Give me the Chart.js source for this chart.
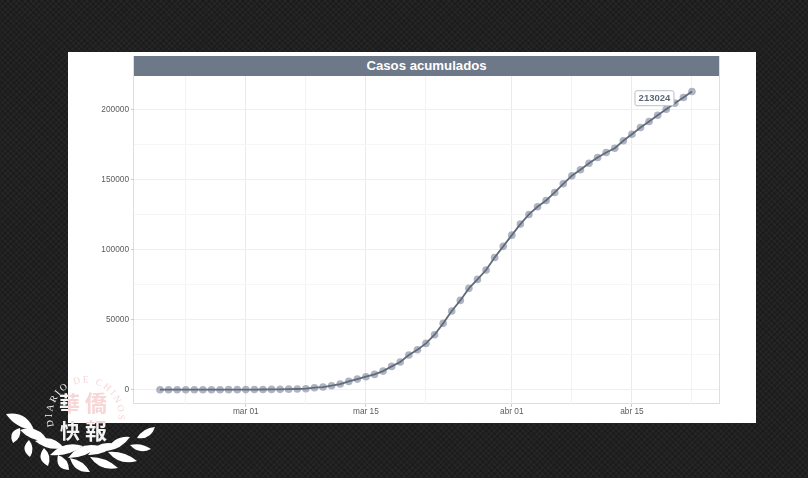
<!DOCTYPE html>
<html>
<head>
<meta charset="utf-8">
<script src="https://cdn.jsdelivr.net/npm/chart.js@4"></script>
<style>
  html, body { margin: 0; padding: 0; }
  body {
    width: 808px; height: 478px; position: relative; overflow: hidden;
    background-color: #262626;
    background-image:
      repeating-linear-gradient(45deg, rgba(0,0,0,.16) 0 2px, transparent 2px 4px),
      repeating-linear-gradient(-45deg, rgba(0,0,0,.16) 0 2px, transparent 2px 4px);
  }
  #sheet { position: absolute; left: 68px; top: 52px; width: 688px; height: 371px; background: #fff; }
  #frame { position: absolute; left: 133px; top: 56px; width: 585px; height: 347px; border: 1px solid #dedee1; border-top: 0; }
  #strip {
    position: absolute; left: 134px; top: 56px; width: 585px; height: 20px; background: #6d7888;
    color: #fff; font: bold 13.2px "Liberation Sans", sans-serif; line-height: 20px; text-align: center;
  }
  #wrap { position: absolute; left: 0; top: 0; width: 808px; height: 478px; filter: blur(.45px); }
  #mark { position: absolute; left: 0; top: 0; }
</style>
</head>
<body>
<div id="sheet"></div>
<div id="frame"></div>
<div id="wrap"><canvas id="myChart" width="808" height="478"></canvas></div>
<div id="strip">Casos acumulados</div>
<svg id="mark" width="808" height="478" xmlns="http://www.w3.org/2000/svg">
  <defs>
    <clipPath id="onSheet"><rect x="68" y="52" width="688" height="371"/></clipPath>
    <clipPath id="offSheet"><path clip-rule="evenodd" d="M0 0H808V478H0Z M68 52H756V423H68Z"/></clipPath>
    <path id="arc" d="M54 426 A33 33 0 1 1 114 432"/>
    <g id="sign">
      <text font-family="Liberation Serif" font-size="9.5"><textPath href="#arc" textLength="118" lengthAdjust="spacing">DIARIO DE CHINOS</textPath></text>
      <text x="59" y="411" font-family="Noto Sans CJK TC" font-weight="700" font-size="21">華</text>
      <text x="85" y="411" font-family="Noto Sans CJK TC" font-weight="700" font-size="22">僑</text>
      <text x="60" y="439" font-family="Noto Sans CJK TC" font-weight="700" font-size="20">快</text>
      <text x="85" y="439" font-family="Noto Sans CJK TC" font-weight="700" font-size="22">報</text>
    </g>
  </defs>
  <g clip-path="url(#onSheet)" fill="#f6d6d6"><use href="#sign"/></g>
  <g clip-path="url(#offSheet)" fill="#f4f4f4"><use href="#sign"/></g>
  <g id="leaves" fill="#fff"></g>
</svg>
<script>
// datos, un valor por dia desde 20 feb
const dayCount = 63;
const casos = [
  3, 3, 3, 3, 4, 8, 15, 25, 35, 60,
  84, 120, 165, 222, 259, 400, 500, 714, 1430, 1900, 2860, 4050, 5950, 7600, 9280,
  10950, 13300, 16660, 19800, 24800, 28600, 33100, 39300, 47400, 56200, 63800, 72400, 78800, 85500, 94500, 102400,
  110400, 118300, 125200, 130700, 135200, 140900, 147100, 152800, 157100, 161800, 165900, 169500, 172500,
  177800, 182500, 187300, 191600, 196100, 200400, 204700, 208700, 213024
];
const lastLabel = "213024";

// dias (desde 20 feb) de las lineas verticales, con etiqueta solo en las mayores
const xTicks = [3, 10, 17, 24, 31, 41, 48, 55, 62];
const xTickLabels = { 10: "mar 01", 24: "mar 15", 41: "abr 01", 55: "abr 15" };
const yTicks = [0, 25000, 50000, 75000, 100000, 125000, 150000, 175000, 200000];
const yTickLabels = [0, 50000, 100000, 150000, 200000];

const tickColor = "#5c5c5c";
const tickFont = { family: "Liberation Sans", size: 8.3 };
const points = casos.map((v, i) => ({ x: i, y: v }));

const labelPlugin = {
  id: "lastLabel",
  afterDatasetsDraw(chart) {
    const c = chart.ctx;
    const px = chart.scales.x.getPixelForValue(dayCount - 1);
    const py = chart.scales.y.getPixelForValue(casos[dayCount - 1]);
    const l = px - 57, t = py - 0.8, w = 39, h = 15;
    c.save();
    c.beginPath();
    c.roundRect(l, t, w, h, 2);
    c.fillStyle = "#fff";
    c.fill();
    c.strokeStyle = "#b9bec8";
    c.lineWidth = 1;
    c.stroke();
    c.fillStyle = "#5d6675";
    c.font = "bold 9.5px 'Liberation Sans'";
    c.textAlign = "center";
    c.textBaseline = "middle";
    c.fillText(lastLabel, l + w / 2, t + h / 2 + 0.5);
    c.restore();
  }
};

new Chart(document.getElementById("myChart"), {
  type: "line",
  plugins: [labelPlugin],
  data: {
    datasets: [
      { data: points, order: 1, borderColor: "#626b7a", borderWidth: 1.8, pointRadius: 0, tension: 0 },
      { data: points, order: 2, showLine: false, pointRadius: 3.8, pointBorderWidth: 0, pointBackgroundColor: "rgba(135,145,165,.68)" }
    ]
  },
  options: {
    responsive: false,
    animation: false,
    events: [],
    layout: { padding: { left: 84, right: 89, top: 76, bottom: 54 } },
    plugins: { legend: { display: false }, tooltip: { enabled: false } },
    scales: {
      x: {
        type: "linear",
        min: -3.03,
        max: 65.15,
        afterBuildTicks: s => { s.ticks = xTicks.map(v => ({ value: v })); },
        afterFit: s => { s.height = 20; },
        border: { display: false },
        grid: {
          color: c => (xTickLabels[c.tick.value] ? "#ebebed" : "#f3f3f4"),
          tickColor: c => (xTickLabels[c.tick.value] ? "#ccc" : "transparent"),
          tickLength: 3
        },
        ticks: {
          autoSkip: false, maxRotation: 0, color: tickColor, font: tickFont, padding: 0,
          callback: v => xTickLabels[v] || ""
        }
      },
      y: {
        type: "linear",
        min: -10200,
        max: 224100,
        afterBuildTicks: s => { s.ticks = yTicks.map(v => ({ value: v })); },
        afterFit: s => { s.width = 50; },
        border: { display: false },
        grid: {
          color: c => (yTickLabels.includes(c.tick.value) ? "#efeff1" : "#f6f6f7"),
          tickColor: c => (yTickLabels.includes(c.tick.value) ? "#ccc" : "transparent"),
          tickLength: 3
        },
        ticks: {
          autoSkip: false, color: tickColor, font: tickFont, padding: 2,
          callback: v => (yTickLabels.includes(v) ? String(v) : "")
        }
      }
    }
  }
});

// laurel de la marca de agua: base x, base y, punta x, punta y, ancho
const leaves = [
  [34,430,6,414,13],[20,428,13,443,10],
  [48,441,20,430,12],[29,440,30,457,10],
  [64,448,35,441,12],[44,448,48,466,11],
  [83,446,50,455,11],[58,455,69,470,11],
  [99,446,68,458,11],[70,458,90,472,10],
  [116,444,88,455,11],[90,457,118,468,10],
  [130,437,107,451,10],[108,452,137,461,10],
  [137,438,155,427,9],[130,445,151,449,8]
];
const svgNS = "http://www.w3.org/2000/svg";
leaves.forEach(([x1, y1, x2, y2, w]) => {
  const mx = (x1 + x2) / 2, my = (y1 + y2) / 2;
  const dx = x2 - x1, dy = y2 - y1, n = Math.hypot(dx, dy);
  const ox = -dy / n * w, oy = dx / n * w;
  const p = document.createElementNS(svgNS, "path");
  p.setAttribute("d", `M${x1} ${y1}Q${mx + ox} ${my + oy} ${x2} ${y2}Q${mx - ox * .6} ${my - oy * .6} ${x1} ${y1}Z`);
  document.getElementById("leaves").appendChild(p);
});
</script>
</body>
</html>
